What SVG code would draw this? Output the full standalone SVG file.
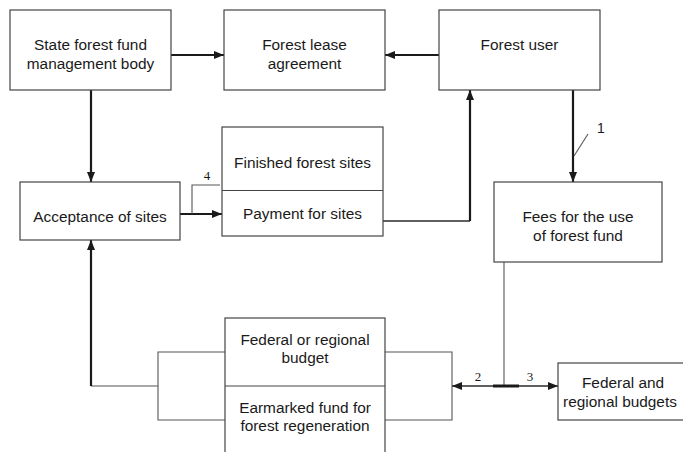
<svg xmlns="http://www.w3.org/2000/svg" width="683" height="452" viewBox="0 0 683 452">
  <defs>
    <marker id="arrow" markerWidth="10" markerHeight="8" refX="10" refY="4" orient="auto" markerUnits="userSpaceOnUse">
      <path d="M0,0 L10,4 L0,8 Z" fill="#1a1a1a"/>
    </marker>
    <marker id="arrow-start" markerWidth="10" markerHeight="8" refX="0" refY="4" orient="auto" markerUnits="userSpaceOnUse">
      <path d="M10,0 L0,4 L10,8 Z" fill="#1a1a1a"/>
    </marker>
  </defs>
  <style>
    .box { fill: #ffffff; stroke: #444444; stroke-width: 1.2; }
    .label { font-family: "Liberation Sans", Arial, sans-serif; font-size: 15.4px; fill: #1a1a1a; text-anchor: middle; }
    .num { font-family: "Liberation Serif", "Times New Roman", serif; font-size: 13px; fill: #1a1a1a; text-anchor: middle; }
    .num-sans { font-family: "Liberation Sans", Arial, sans-serif; font-size: 14px; fill: #1a1a1a; text-anchor: middle; }
    .thick { fill: none; stroke: #1a1a1a; stroke-width: 2.2; }
    .mid { fill: none; stroke: #2a2a2a; stroke-width: 1.5; }
    .thin { fill: none; stroke: #555555; stroke-width: 1.1; }
  </style>
  <rect width="683" height="452" fill="#ffffff"/>

  <!-- connectors -->
  <g id="connectors">
    <path class="thick" d="M171,55 H224" marker-end="url(#arrow)"/>
    <path class="thick" d="M439,55 H385" marker-end="url(#arrow)"/>
    <path class="thick" d="M91,90 V182" marker-end="url(#arrow)"/>
    <path class="thick" d="M573,90 V182" marker-end="url(#arrow)"/>
    <path class="thin" d="M574,156 L588,134"/>
    <path class="thick" d="M180,214 H222" marker-end="url(#arrow)"/>
    <path class="thin" d="M192,214 V185 H220"/>
    <path class="mid" d="M383,221 H470"/>
    <path class="thick" d="M470,221 V90" marker-end="url(#arrow)"/>
    <path class="thin" d="M158,386 H91"/>
    <path class="thick" d="M91,386 V240" marker-end="url(#arrow)"/>
    <path class="thin" d="M225,352 H158 V420 H225"/>
    <path class="thin" d="M385,352 H452 V420 H385"/>
    <path class="thin" d="M504,262 V386"/>
    <path class="mid" d="M452,386 H558" marker-start="url(#arrow-start)" marker-end="url(#arrow)"/>
    <path fill="none" stroke="#1a1a1a" stroke-width="3" d="M493,386 H519"/>
    <text class="num-sans" x="601" y="133">1</text>
    <text class="num" x="478" y="381">2</text>
    <text class="num" x="530" y="381">3</text>
    <text class="num" x="207" y="180">4</text>
  </g>

  <g id="state-body">
    <rect class="box" x="10" y="10" width="161" height="80"/>
    <text class="label" x="90.5" y="50">State forest fund</text>
    <text class="label" x="90.5" y="69">management body</text>
  </g>

  <g id="lease-agreement">
    <rect class="box" x="224" y="10" width="161" height="80"/>
    <text class="label" x="304.5" y="50">Forest lease</text>
    <text class="label" x="304.5" y="69">agreement</text>
  </g>

  <g id="forest-user">
    <rect class="box" x="439" y="10" width="161" height="80"/>
    <text class="label" x="519.5" y="50">Forest user</text>
  </g>

  <g id="acceptance">
    <rect class="box" x="20" y="182" width="160" height="58"/>
    <text class="label" x="100" y="222">Acceptance of sites</text>
  </g>

  <g id="sites">
    <rect class="box" x="222" y="127" width="161" height="109"/>
    <line x1="222" y1="190.5" x2="383" y2="190.5" stroke="#444444" stroke-width="1.2"/>
    <text class="label" x="302.5" y="167.5">Finished forest sites</text>
    <text class="label" x="302.5" y="219">Payment for sites</text>
  </g>

  <g id="fees">
    <rect class="box" x="494" y="182" width="168" height="80"/>
    <text class="label" x="578" y="222">Fees for the use</text>
    <text class="label" x="578" y="240.5">of forest fund</text>
  </g>

  <g id="budget">
    <rect class="box" x="225" y="318" width="160" height="150"/>
    <line x1="225" y1="386" x2="385" y2="386" stroke="#444444" stroke-width="1.2"/>
    <text class="label" x="305" y="345">Federal or regional</text>
    <text class="label" x="305" y="363">budget</text>
    <text class="label" x="305" y="413">Earmarked fund for</text>
    <text class="label" x="305" y="431">forest regeneration</text>
  </g>

  <g id="federal-regional">
    <rect class="box" x="558" y="363" width="150" height="57"/>
    <text class="label" x="623" y="388">Federal and</text>
    <text class="label" x="620" y="406.5">regional budgets</text>
  </g>
</svg>
